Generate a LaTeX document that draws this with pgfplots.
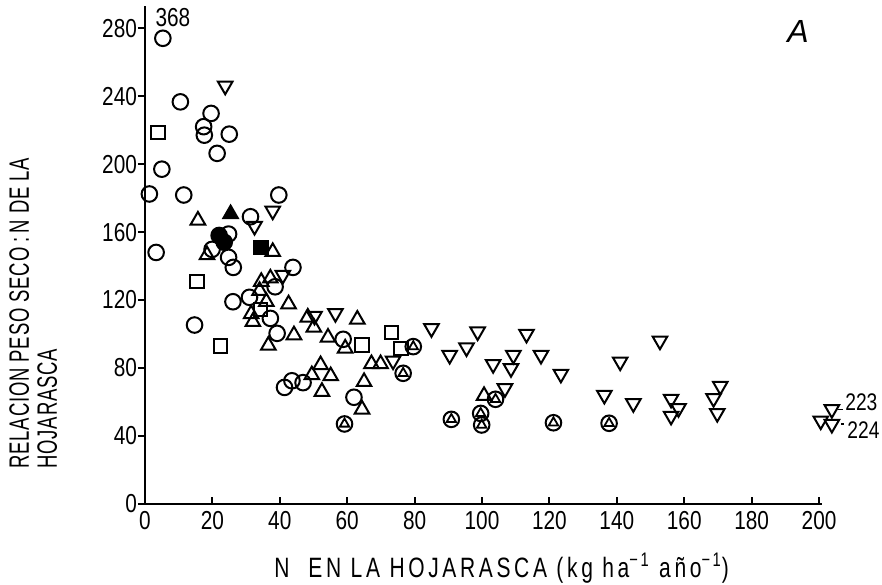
\documentclass[border=0pt]{standalone}
\usepackage{fontspec}
\setmainfont{Liberation Sans}
\newfontfamily\tickfont{Liberation Sans}[FakeStretch=0.8]
\newfontfamily\ylabfont{Liberation Sans}[FakeStretch=0.66, LetterSpace=3]
\newfontfamily\xlabfont{Liberation Sans}[FakeStretch=0.75, LetterSpace=13]
\usepackage{pgfplots}
\pgfplotsset{compat=1.18}

% Litter dry-weight : N ratio against N in litterfall
\pgfplotstableread{
x y
5.3 274
10.5 236.6
19.6 229.8
17.4 222
17.6 217
25 217.6
21.4 206.3
5 197
1.3 182.4
11.5 181.8
39.7 181.8
31.3 169
24.8 158.8
19.9 149.8
24.8 145.1
26.2 139.2
3.3 148
43.9 139.2
38.6 127.8
26.1 119
31 121.6
37.2 109.2
14.7 105.3
39.2 100.4
58.8 96.9
46.9 71.4
43.6 72.5
41.4 68.6
62 62.8
}\circles

\pgfplotstableread{
x y
15.7 166.9
18.4 146.5
37.9 148.4
34.5 130.8
37.2 132.8
34 125.5
36 119
42.6 117.6
31.5 111.8
32 107.2
44.2 99.4
48.3 109.8
50.1 103.9
36.6 93.3
63 108.6
54.3 98
59.4 91.6
67.2 82.4
69.9 82.4
52.1 81.8
49.5 75.9
55.1 75.3
52.5 66.1
65 71.9
64.4 55.7
100.6 63.7
}\trianglesup

\pgfplotstableread{
x y
23.8 246
37.9 172.5
32.5 163.5
40.9 134.7
50.3 110.6
56.5 112.2
85 103.3
73.6 84.3
98.7 101.4
113.2 100
90.4 87.6
95.4 92
103.3 82.2
109.3 87.6
108.6 79.8
117.5 87.6
123.4 76.5
106.8 68
141 83.7
136.3 64.1
144.9 59.2
152.8 96
156.1 61.8
158.3 56.3
156.1 51.8
170.7 69.4
168.7 62.2
169.8 53.4
200.5 49
203.8 55.7
203.8 47
}\trianglesdown

\pgfplotstableread{
x y
3.8 218.6
15.5 130.8
34.3 114.5
22.4 92.9
64.4 93.5
73.1 100.8
75.9 91.6
}\squares

\pgfplotstableread{
x y
79.6 92.6
76.6 76.9
59.2 47.1
104 61.6
90.9 49.8
99.6 53.3
99.9 46.5
121.2 47.8
137.7 47.5
}\circtri

\pgfplotstableread{
x y
22 158
23.5 154
}\filledcircles

\begin{document}
\begin{tikzpicture}
\useasboundingbox (-72.5pt,-40pt) rectangle (368.5pt,252pt);
\begin{axis}[
  at={(0pt,0pt)}, anchor=south west,
  scale only axis, width=338.7pt, height=249pt,
  xmin=0, xmax=201, ymin=0, ymax=293,
  axis lines*=left,
  axis line style={line width=1.2pt, -},
  clip=false,
  xtick={0,20,...,200}, ytick={0,40,...,280},
  xtick align=inside, ytick align=outside,
  major tick length=3.5pt,
  tick style={line width=1pt, black},
  tick label style={font=\tickfont\fontsize{13}{15}\selectfont},
  yticklabel style={xshift=3pt},
  /pgf/number format/assume math mode=true,
  only marks,
  every axis plot/.append style={black, line width=1pt},
]
\addplot[mark=o, mark size=3.9pt] table {\circles};
\addplot[mark=triangle, mark size=4.2pt] table {\trianglesup};
\addplot[mark=triangle, mark size=4.2pt, mark options={rotate=180}] table {\trianglesdown};
\addplot[mark=square, mark size=3.4pt] table {\squares};
\addplot[mark=o, mark size=3.9pt] table {\circtri};
\addplot[mark=triangle, mark size=2.7pt, line width=0.9pt] table {\circtri};
\addplot[mark=*, mark size=3.9pt] table {\filledcircles};
\addplot[mark=triangle*, mark size=4.2pt] coordinates {(25.4,170.6)};
\addplot[mark=square*, mark size=3.4pt] coordinates {(34.5,150.8)};

\node[anchor=base west, inner sep=0pt, font=\tickfont\fontsize{13}{15}\selectfont] at (axis cs:3,281) {368};
\node[anchor=base west, inner sep=0pt, font=\fontsize{16}{18}\selectfont\itshape] at (axis cs:190.5,271.8) {A};
\node[anchor=base west, inner sep=0pt, font=\tickfont\fontsize{12}{14}\selectfont] at (axis cs:207.7,55.3) {223};
\node[anchor=base west, inner sep=0pt, font=\tickfont\fontsize{12}{14}\selectfont] at (axis cs:208.3,38.8) {224};
\draw[line width=0.8pt] (axis cs:205.6,55.6) -- (axis cs:207.2,55.6);
\draw[line width=0.9pt] (axis cs:206.6,47) -- (axis cs:207.3,47);
\end{axis}

\node[anchor=base, inner sep=0pt, font=\xlabfont\fontsize{14}{16}\selectfont]
  at (178.3pt,-36.5pt) {N\ \ EN LA HOJARASCA (kg ha\textsuperscript{−1} año\textsuperscript{−1})};
\node[rotate=90, anchor=north west, align=left, inner sep=0pt,
  font=\ylabfont\fontsize{14}{14}\selectfont]
  at (-68pt,17.5pt) {RELACION PESO SECO\,:\,N DE LA\\HOJARASCA};
\end{tikzpicture}
\end{document}
